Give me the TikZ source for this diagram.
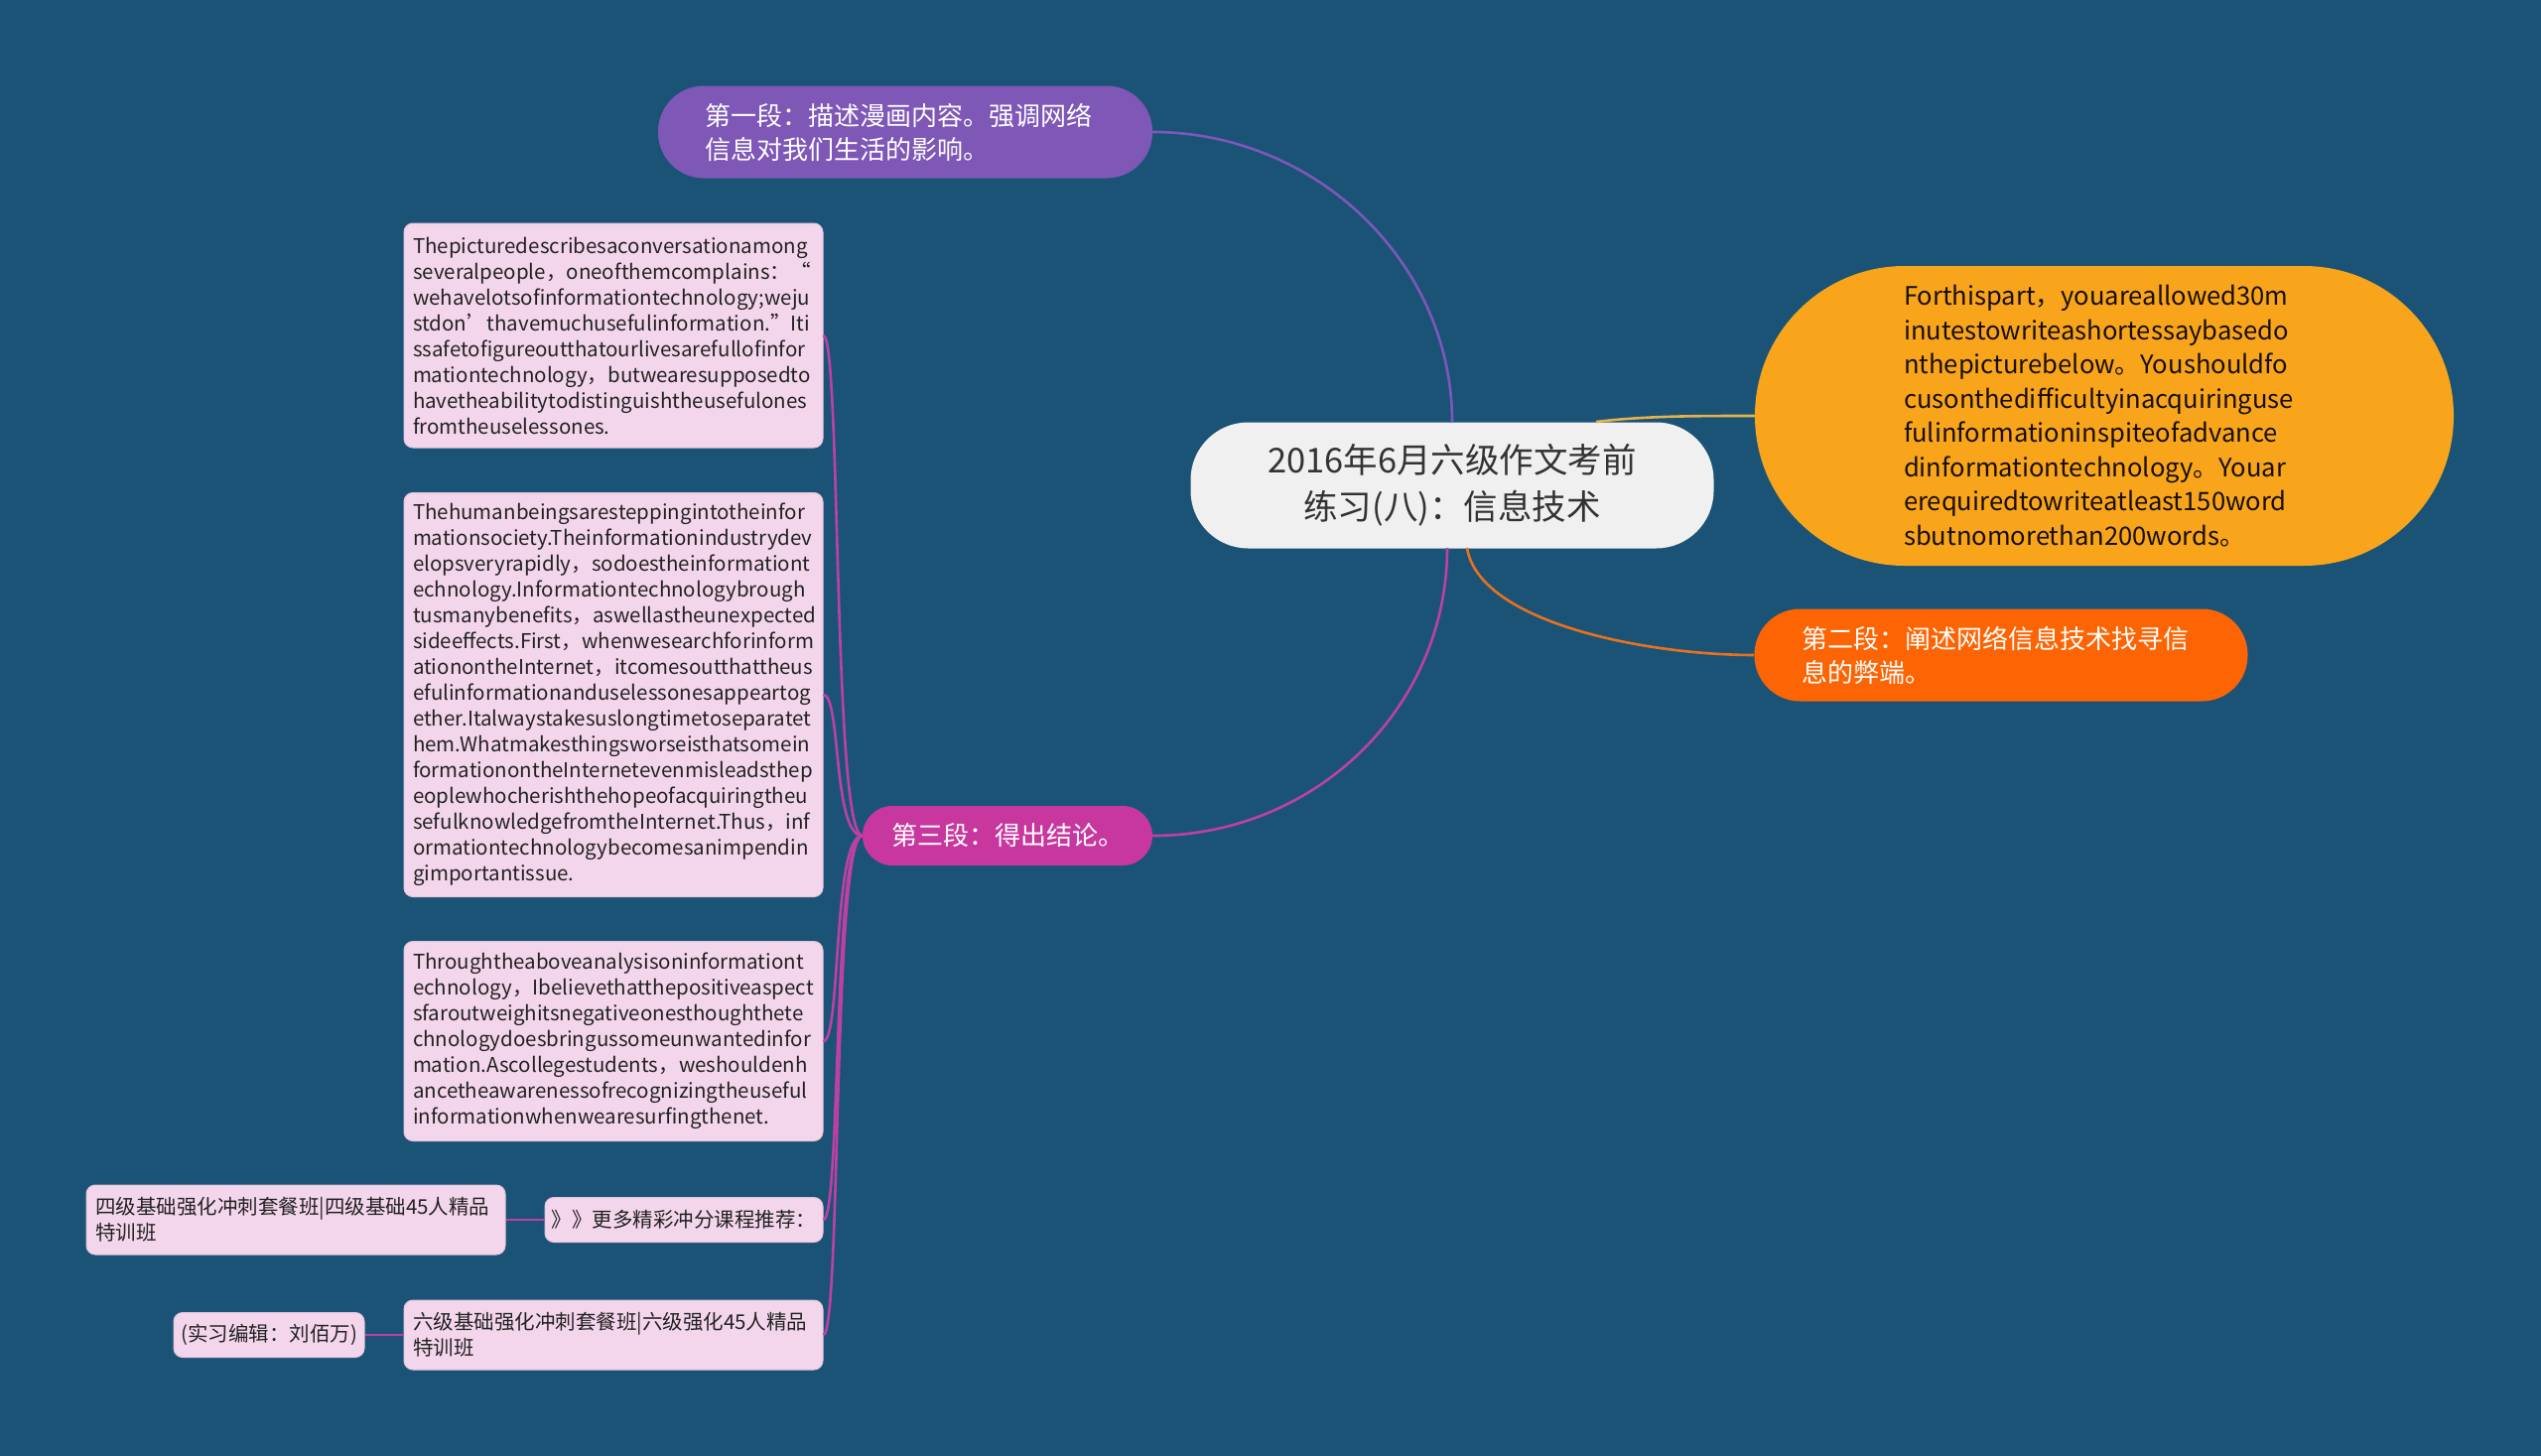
\documentclass[tikz,border=0pt]{standalone}
\usepackage{fontspec}
\newfontfamily\cjk{Noto Sans CJK SC}
\definecolor{bg}{HTML}{1B5377}
\definecolor{purplec}{HTML}{7E57B7}
\definecolor{magc}{HTML}{C7379E}
\definecolor{magl}{HTML}{BE40A3}
\definecolor{yelc}{HTML}{F9A51B}
\definecolor{yell}{HTML}{E6B04A}
\definecolor{orc}{HTML}{FD6404}
\definecolor{orl}{HTML}{E8711F}
\definecolor{rootc}{HTML}{F0F0F0}
\definecolor{leafc}{HTML}{F4D6EC}
\definecolor{leafb}{HTML}{E6C3DD}
\definecolor{leaftext}{HTML}{222222}
\hyphenpenalty=10000
\begin{document}
\begin{tikzpicture}[x=1pt,y=-1pt,
  leaf/.style={fill=leafc, draw=leafb, line width=1pt, rounded corners=9pt, text=leaftext,
    font=\cjk\fontsize{20.5}{26}\selectfont, align=left, inner sep=0pt},
  topic/.style={inner sep=0pt, align=left, text=white, font=\cjk\fontsize{26}{34}\selectfont},
  lk/.style={line width=2.6pt, magl},
  conn/.style={line width=2.6pt}]
\useasboundingbox[fill=bg] (0,0) rectangle (2560,1467);

% central topic
\node[fill=rootc, rounded corners=58pt, minimum width=527pt, minimum height=127pt, inner sep=0pt,
  align=center, text=black!80, font=\cjk\fontsize{34.5}{47}\selectfont] (root) at (1463,489)
  {2016年6月六级作文考前\\练习(八)：信息技术};

% main branches
\node[topic, fill=purplec, rounded corners=46pt, minimum width=498pt, minimum height=93pt, text width=404pt] (p1) at (912,133)
  {第一段：描述漫画内容。强调网络\\信息对我们生活的影响。};
\node[topic, fill=magc, rounded corners=30pt, minimum width=292pt, minimum height=60pt, text width=234pt] (p3) at (1015,842)
  {第三段：得出结论。};
\node[topic, fill=yelc, text=black!88!brown, rounded corners=151pt, minimum width=704pt, minimum height=302pt,
  text width=404pt, font=\cjk\fontsize{25.6}{34.5}\selectfont] (intro) at (2120,419)
  {Forthispart，youareallowed30m\\inutestowriteashortessaybasedo\\nthepicturebelow。Youshouldfo\\cusonthedifficultyinacquiringuse\\fulinformationinspiteofadvance\\dinformationtechnology。Youar\\erequiredtowriteatleast150word\\sbutnomorethan200words。};
\node[topic, fill=orc, rounded corners=46pt, minimum width=497pt, minimum height=93pt, text width=401pt] (p2) at (2016,660)
  {第二段：阐述网络信息技术找寻信\\息的弊端。};

% leaves of part three
\node[leaf, minimum width=422pt, minimum height=226pt, text width=404pt] (b1) at (618,338)
  {Thepicturedescribesaconversationamong\\severalpeople，oneofthemcomplains：“\\wehavelotsofinformationtechnology;weju\\stdon’thavemuchusefulinformation.”Iti\\ssafetofigureoutthatourlivesarefullofinfor\\mationtechnology，butwearesupposedto\\havetheabilitytodistinguishtheusefulones\\fromtheuselessones.};
\node[leaf, minimum width=422pt, minimum height=407pt, text width=404pt] (b2) at (618,700)
  {Thehumanbeingsaresteppingintotheinfor\\mationsociety.Theinformationindustrydev\\elopsveryrapidly，sodoestheinformationt\\echnology.Informationtechnologybrough\\tusmanybenefits，aswellastheunexpected\\sideeffects.First，whenwesearchforinform\\ationontheInternet，itcomesoutthattheus\\efulinformationanduselessonesappeartog\\ether.Italwaystakesuslongtimetoseparatet\\hem.Whatmakesthingsworseisthatsomein\\formationontheInternetevenmisleadsthep\\eoplewhocherishthehopeofacquiringtheu\\sefulknowledgefromtheInternet.Thus，inf\\ormationtechnologybecomesanimpendin\\gimportantissue.};
\node[leaf, minimum width=422pt, minimum height=201pt, text width=404pt] (b3) at (618,1049)
  {Throughtheaboveanalysisoninformationt\\echnology，Ibelievethatthepositiveaspect\\sfaroutweighitsnegativeonesthoughthete\\chnologydoesbringussomeunwantedinfor\\mation.Ascollegestudents，weshouldenh\\ancetheawarenessofrecognizingtheuseful\\informationwhenwearesurfingthenet.};
\node[leaf, minimum width=280pt, minimum height=45pt] (b4) at (689,1229)
  {》》更多精彩冲分课程推荐：};
\node[leaf, minimum width=422pt, minimum height=70pt, text width=404pt] (b5) at (298,1229)
  {四级基础强化冲刺套餐班|四级基础45人精品\\特训班};
\node[leaf, minimum width=422pt, minimum height=70pt, text width=404pt] (b6) at (618,1345)
  {六级基础强化冲刺套餐班|六级强化45人精品\\特训班};
\node[leaf, minimum width=192pt, minimum height=45pt] (b7) at (271,1345)
  {(实习编辑：刘佰万)};

% connectors from the central topic
\coordinate (ystart) at (1608,425);
\coordinate (ostart) at (1478,552);
\coordinate (mstart) at (1458,552);
\draw[conn, purplec] (root.north) .. controls +(0,-160) and +(165,0) .. (p1.east);
\draw[conn, yell] (ystart) .. controls +(50,-6) and +(-60,0) .. (intro.west);
\draw[conn, orl] (ostart) .. controls +(12,75) and +(-110,0) .. (p2.west);
\draw[conn, magl] (mstart) .. controls +(0,160) and +(165,0) .. (p3.east);

% connectors of part three
\foreach \b in {b1,b2,b3,b4,b6}
  \draw[lk] (p3.west) .. controls +(-30,0) and +(18,0) .. (\b.east);
\draw[lk] (b4.west) -- (b5.east);
\draw[lk] (b6.west) -- (b7.east);
\end{tikzpicture}
\end{document}
